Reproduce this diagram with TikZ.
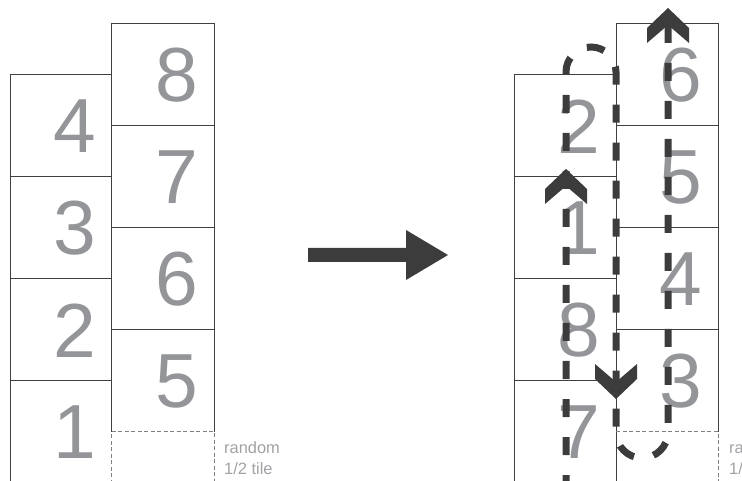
\documentclass[tikz,border=0pt]{standalone}
\usepackage{fontspec}
\setmainfont{Liberation Sans}
\definecolor{tileline}{HTML}{404040}
\definecolor{numgray}{HTML}{939598}
\definecolor{darkink}{HTML}{3C3C3C}
\definecolor{notegray}{HTML}{A0A2A5}
\definecolor{dashgray}{HTML}{808080}
\begin{document}
\begin{tikzpicture}[x=1bp,y=-1bp,
  tile/.style={draw=tileline, line width=0.9bp},
  halftile/.style={draw=dashgray, line width=0.8bp, dash pattern=on 4bp off 2.5bp},
  num/.style={text=numgray, font=\fontsize{77}{77}\selectfont, inner sep=0pt, anchor=center},
  note/.style={text=notegray, font=\fontsize{16.5}{20}\selectfont, inner sep=0pt, anchor=base west},
  route/.style={draw=darkink, line width=7bp, dash pattern=on 18bp off 20bp},
  chevron/.pic={\fill[darkink] (0,0)--(-21,20)--(-21,35)--(0,17)--(21,35)--(21,20)--cycle;}
]
\useasboundingbox (0,0) rectangle (742,481);
\clip (0,0) rectangle (742,481);

% ---------- left figure ----------
\draw[tile] (10,490) -- (10,74.5) -- (111.5,74.5) -- (111.5,431.5);
\foreach \y in {176.5,278.5,380.5} \draw[tile] (10,\y) -- (111.5,\y);
\draw[tile] (111.5,431.5) -- (111.5,23.5) -- (214,23.5) -- (214,431.5);
\foreach \y in {125.5,227.5,329.5} \draw[tile] (111.5,\y) -- (214,\y);
\draw[halftile] (111.5,490) -- (111.5,431.5) -- (214,431.5) -- (214,490);

\node[num] (l1) at (75,432.5) {1};
\node[num] (l2) at (75,330.5) {2};
\node[num] (l3) at (75,228.5) {3};
\node[num] (l4) at (75,126.5) {4};
\node[num] (l8) at (177,75.5) {8};
\node[num] (l7) at (177,177.5) {7};
\node[num] (l6) at (177,279.5) {6};
\node[num] (l5) at (177,381.5) {5};

\node[note] (ln1) at (224,453) {random};
\node[note] (ln2) at (224,474) {1/2 tile};

% ---------- big arrow ----------
\fill[darkink] (308,248) -- (406,248) -- (406,230) -- (448,255) -- (406,280) -- (406,262) -- (308,262) -- cycle;

% ---------- right figure ----------
\draw[tile] (514,490) -- (514,74.5) -- (616,74.5) -- (616,490);
\foreach \y in {176.5,278.5,380.5} \draw[tile] (514,\y) -- (616,\y);
\draw[tile] (616,431.5) -- (616,23.5) -- (718,23.5) -- (718,431.5);
\foreach \y in {125.5,227.5,329.5} \draw[tile] (616,\y) -- (718,\y);
\draw[halftile] (616,431.5) -- (718,431.5) -- (718,490);

\node[num] (r2n) at (579,126.5) {2};
\node[num] (r1n) at (579,228.5) {1};
\node[num] (r8n) at (579,330.5) {8};
\node[num] (r7n) at (579,432.5) {7};
\node[num] (r6n) at (681,75.5) {6};
\node[num] (r5n) at (681,177.5) {5};
\node[num] (r4n) at (681,279.5) {4};
\node[num] (r3n) at (681,381.5) {3};

\node[note] (rn1) at (729,453) {random};
\node[note] (rn2) at (729,474) {1/2 tile};

% ---------- route ----------
\coordinate (p0) at (566,493);
\coordinate (p1) at (566,72);
\coordinate (p3) at (616,432);
\coordinate (p5) at (668,22);
\draw[route] (p0) -- (p1) arc[start angle=180,end angle=360,radius=25] -- (p3) arc[start angle=180,end angle=0,radius=26] -- (p5);

\pic at (566,169) {chevron};
\pic[rotate=180] at (616,399) {chevron};
\pic at (668,8) {chevron};
\end{tikzpicture}
\end{document}
